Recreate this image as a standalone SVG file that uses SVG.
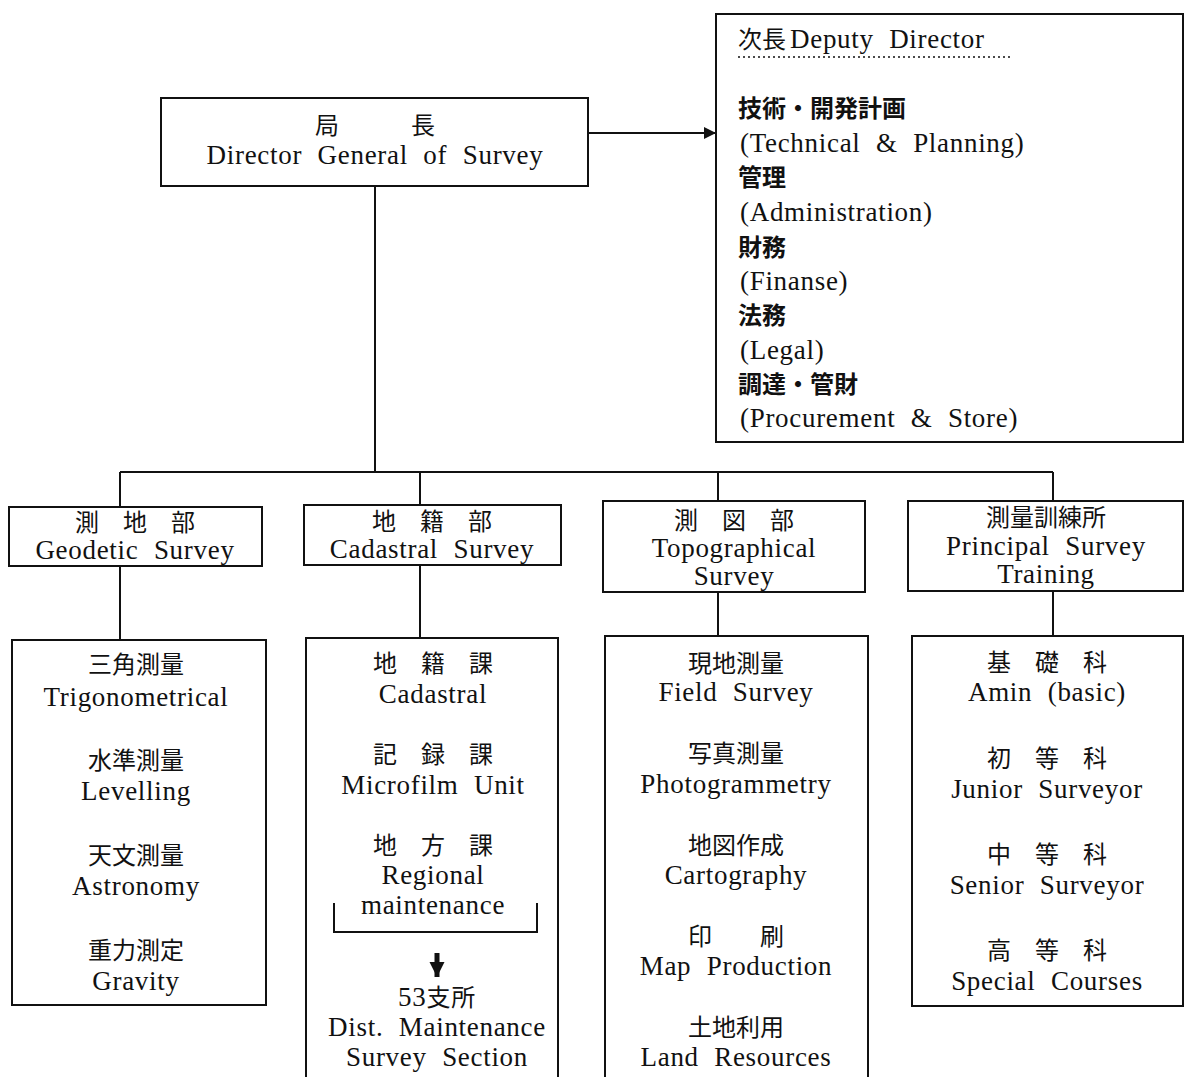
<svg xmlns="http://www.w3.org/2000/svg" width="1186" height="1077" viewBox="0 0 1186 1077">
<style>
.box{fill:none;stroke:#111;stroke-width:2}
.ln{fill:none;stroke:#111;stroke-width:2}
.en{font-family:"Liberation Serif","DejaVu Serif",serif;font-size:27px;fill:#111;letter-spacing:0.7px;word-spacing:8px}
.ja{font-family:"Noto Sans CJK JP","Noto Sans CJK SC",sans-serif;font-size:24px;fill:#111}
.b{font-weight:bold}
.c{text-anchor:middle}
</style>
<defs>
<marker id="arr" viewBox="0 0 10 10" refX="10" refY="5" markerWidth="6" markerHeight="7" markerUnits="strokeWidth" orient="auto">
<path d="M0,0 L10,5 L0,10 Z" fill="#111"/>
</marker>
<marker id="arrd" viewBox="0 0 10 10" refX="10" refY="5" markerWidth="3" markerHeight="3.5" markerUnits="strokeWidth" orient="auto">
<path d="M0,0 L10,5 L0,10 Z" fill="#111"/>
</marker>
</defs>
<rect width="1186" height="1077" fill="#fff"/>

<g id="connectors">
<line class="ln" x1="588" y1="133" x2="716" y2="133" marker-end="url(#arr)"/>
<line class="ln" x1="375" y1="186" x2="375" y2="472"/>
<line class="ln" x1="120" y1="472" x2="1053" y2="472"/>
<line class="ln" x1="120" y1="472" x2="120" y2="507"/>
<line class="ln" x1="420" y1="472" x2="420" y2="505"/>
<line class="ln" x1="718" y1="472" x2="718" y2="501"/>
<line class="ln" x1="1053" y1="472" x2="1053" y2="501"/>
<line class="ln" x1="120" y1="566" x2="120" y2="640"/>
<line class="ln" x1="420" y1="565" x2="420" y2="638"/>
<line class="ln" x1="718" y1="592" x2="718" y2="636"/>
<line class="ln" x1="1053" y1="591" x2="1053" y2="636"/>
</g>

<g id="director">
<rect class="box" x="161" y="98" width="427" height="88"/>
<text class="ja c" x="375" y="134">局　　　長</text>
<text class="en c" x="375" y="164">Director General of Survey</text>
</g>

<g id="deputy">
<rect class="box" x="716" y="14" width="467" height="428"/>
<text class="ja" x="738" y="48">次長</text>
<text class="en" x="790" y="48">Deputy Director</text>
<line x1="738" y1="57" x2="1010" y2="57" stroke="#111" stroke-width="1.5" stroke-dasharray="2,3"/>
<text class="ja b" x="738" y="117">技術・開発計画</text>
<text class="en" x="740" y="152">(Technical &amp; Planning)</text>
<text class="ja b" x="738" y="186">管理</text>
<text class="en" x="740" y="221">(Administration)</text>
<text class="ja b" x="738" y="256">財務</text>
<text class="en" x="740" y="290">(Finanse)</text>
<text class="ja b" x="738" y="324">法務</text>
<text class="en" x="740" y="359">(Legal)</text>
<text class="ja b" x="738" y="393">調達・管財</text>
<text class="en" x="740" y="427">(Procurement &amp; Store)</text>
</g>

<g id="geodetic">
<rect class="box" x="9" y="507" width="253" height="59"/>
<text class="ja c" x="135" y="531">測　地　部</text>
<text class="en c" x="135" y="559">Geodetic Survey</text>
</g>

<g id="cadastral">
<rect class="box" x="304" y="505" width="257" height="60"/>
<text class="ja c" x="432" y="530">地　籍　部</text>
<text class="en c" x="432" y="558">Cadastral Survey</text>
</g>

<g id="topographical">
<rect class="box" x="603" y="501" width="262" height="91"/>
<text class="ja c" x="734" y="529">測　図　部</text>
<text class="en c" x="734" y="557">Topographical</text>
<text class="en c" x="734" y="585">Survey</text>
</g>

<g id="training">
<rect class="box" x="908" y="501" width="275" height="90"/>
<text class="ja c" x="1046" y="526">測量訓練所</text>
<text class="en c" x="1046" y="555">Principal Survey</text>
<text class="en c" x="1046" y="583">Training</text>
</g>

<g id="geodetic-units">
<rect class="box" x="12" y="640" width="254" height="365"/>
<text class="ja c" x="136" y="673">三角測量</text>
<text class="en c" x="136" y="706">Trigonometrical</text>
<text class="ja c" x="136" y="769">水準測量</text>
<text class="en c" x="136" y="800">Levelling</text>
<text class="ja c" x="136" y="864">天文測量</text>
<text class="en c" x="136" y="895">Astronomy</text>
<text class="ja c" x="136" y="959">重力測定</text>
<text class="en c" x="136" y="990">Gravity</text>
</g>

<g id="cadastral-units">
<path class="box" d="M306,1077 V638 H558 V1077"/>
<text class="ja c" x="433" y="672">地　籍　課</text>
<text class="en c" x="433" y="703">Cadastral</text>
<text class="ja c" x="433" y="763">記　録　課</text>
<text class="en c" x="433" y="794">Microfilm Unit</text>
<text class="ja c" x="433" y="854">地　方　課</text>
<text class="en c" x="433" y="884">Regional</text>
<text class="en c" x="433" y="914">maintenance</text>
<path class="ln" d="M334,903 V932 H537 V903" stroke-width="1.5"/>
<line x1="437" y1="953" x2="437" y2="977" stroke="#111" stroke-width="5" marker-end="url(#arrd)"/>
<text class="en c" x="437" y="1006"><tspan>53</tspan><tspan class="ja">支所</tspan></text>
<text class="en c" x="437" y="1036">Dist. Maintenance</text>
<text class="en c" x="437" y="1066">Survey Section</text>
</g>

<g id="topographical-units">
<path class="box" d="M605,1077 V636 H868 V1077"/>
<text class="ja c" x="736" y="672">現地測量</text>
<text class="en c" x="736" y="701">Field Survey</text>
<text class="ja c" x="736" y="762">写真測量</text>
<text class="en c" x="736" y="793">Photogrammetry</text>
<text class="ja c" x="736" y="854">地図作成</text>
<text class="en c" x="736" y="884">Cartography</text>
<text class="ja c" x="736" y="945">印　　刷</text>
<text class="en c" x="736" y="975">Map Production</text>
<text class="ja c" x="736" y="1036">土地利用</text>
<text class="en c" x="736" y="1066">Land Resources</text>
</g>

<g id="training-units">
<rect class="box" x="912" y="636" width="271" height="370"/>
<text class="ja c" x="1047" y="671">基　礎　科</text>
<text class="en c" x="1047" y="701">Amin (basic)</text>
<text class="ja c" x="1047" y="767">初　等　科</text>
<text class="en c" x="1047" y="798">Junior Surveyor</text>
<text class="ja c" x="1047" y="863">中　等　科</text>
<text class="en c" x="1047" y="894">Senior Surveyor</text>
<text class="ja c" x="1047" y="959">高　等　科</text>
<text class="en c" x="1047" y="990">Special Courses</text>
</g>
</svg>
